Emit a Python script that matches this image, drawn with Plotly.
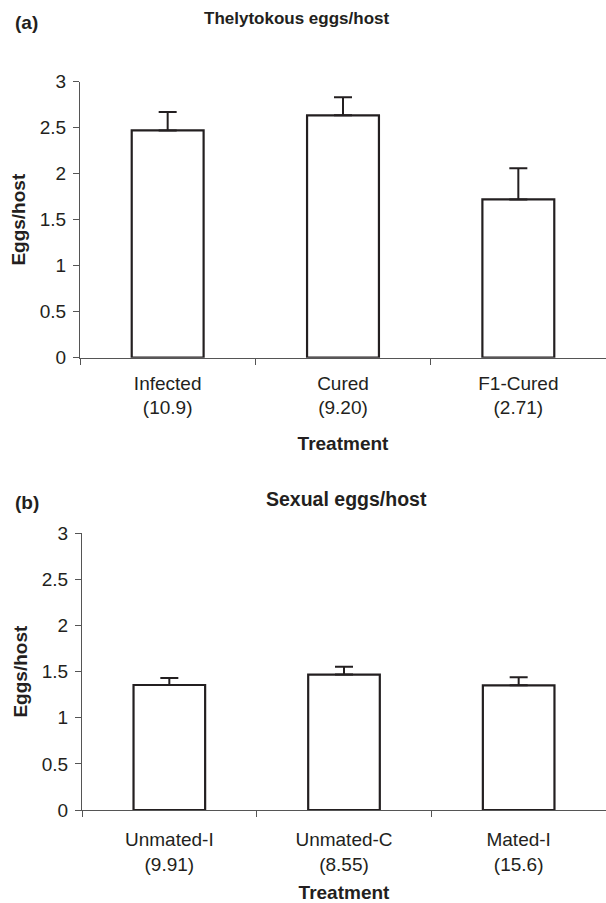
import plotly.graph_objects as go

# ---- data ----
cats_a = ["Infected<br>(10.9)", "Cured<br>(9.20)", "F1-Cured<br>(2.71)"]
vals_a = [2.47, 2.635, 1.72]
err_a = [0.20, 0.195, 0.34]

cats_b = ["Unmated-I<br>(9.91)", "Unmated-C<br>(8.55)", "Mated-I<br>(15.6)"]
vals_b = [1.355, 1.468, 1.352]
err_b = [0.075, 0.086, 0.088]

ytick_vals = [0, 0.5, 1, 1.5, 2, 2.5, 3]
ytick_text = ["0", "0.5", "1", "1.5", "2", "2.5", "3"]

title_a = "Thelytokous eggs/host"
title_b = "Sexual eggs/host"
x_title = "Treatment"
y_title = "Eggs/host"

# ---- style ----
W, H = 606, 903
FONT = "Liberation Sans, Arial, Helvetica, sans-serif"
INK = "#231f20"
AX = "#555555"

def bar(x, y, err, xa, ya):
    return go.Bar(
        x=x, y=y, xaxis=xa, yaxis=ya, width=0.41,
        marker=dict(color="white", line=dict(color=INK, width=2.2)),
        error_y=dict(type="data", symmetric=False, array=err,
                     arrayminus=[0] * len(err), color=INK, thickness=2, width=9),
        showlegend=False, hoverinfo="x+y",
    )

fig = go.Figure()
fig.add_trace(bar(cats_a, vals_a, err_a, "x", "y"))
fig.add_trace(bar(cats_b, vals_b, err_b, "x2", "y2"))

def xax(domain, anchor, standoff_lbl, title_standoff):
    return dict(
        domain=domain, anchor=anchor, type="category",
        showline=True, linecolor=AX, linewidth=1,
        ticks="outside", ticklen=6, tickcolor=AX, tickwidth=1,
        tickson="boundaries", showgrid=False, zeroline=False,
        tickfont=dict(family=FONT, size=19, color=INK),
        ticklabelstandoff=standoff_lbl,
        title=dict(text="<b>" + x_title + "</b>", standoff=title_standoff,
                   font=dict(family=FONT, size=19, color=INK)),
        automargin=False, fixedrange=True,
    )

def yax(domain, anchor):
    return dict(
        domain=domain, anchor=anchor, range=[0, 3],
        tickvals=ytick_vals, ticktext=ytick_text,
        showline=True, linecolor=AX, linewidth=1,
        ticks="outside", ticklen=6, tickcolor=AX, tickwidth=1,
        showgrid=False, zeroline=False,
        tickfont=dict(family=FONT, size=19, color=INK),
        ticklabelstandoff=3,
        title=dict(text="<b>" + y_title + "</b>", standoff=9,
                   font=dict(family=FONT, size=19, color=INK)),
        automargin=False, fixedrange=True,
    )

def py(pix):
    return 1 - pix / H

fig.update_layout(
    width=W, height=H,
    margin=dict(l=0, r=0, t=0, b=0),
    paper_bgcolor="white", plot_bgcolor="white",
    font=dict(family=FONT, color=INK),
    bargap=0.59,
    xaxis=xax([80 / W, 1], "y", 8, 19),
    yaxis=yax([py(357.7), py(81.7)], "x"),
    xaxis2=xax([82 / W, 1], "y2", 12, 17),
    yaxis2=yax([py(810), py(533.3)], "x2"),
    annotations=[
        dict(text="<b>(a)</b>", x=13 / W, y=py(22), xref="paper", yref="paper",
             xanchor="left", yanchor="middle", showarrow=False,
             font=dict(family=FONT, size=19, color=INK)),
        dict(text="<b>" + title_a + "</b>", x=296 / W, y=py(18.5), xref="paper", yref="paper",
             xanchor="center", yanchor="middle", showarrow=False,
             font=dict(family=FONT, size=17, color=INK)),
        dict(text="<b>(b)</b>", x=13 / W, y=py(502), xref="paper", yref="paper",
             xanchor="left", yanchor="middle", showarrow=False,
             font=dict(family=FONT, size=19, color=INK)),
        dict(text="<b>" + title_b + "</b>", x=346.5 / W, y=py(499), xref="paper", yref="paper",
             xanchor="center", yanchor="middle", showarrow=False,
             font=dict(family=FONT, size=19.5, color=INK)),
    ],
)

fig.write_html(
    "out.html",
    config={"displayModeBar": False},
    post_script="document.body.style.margin='0';document.body.style.overflow='hidden';",
)
